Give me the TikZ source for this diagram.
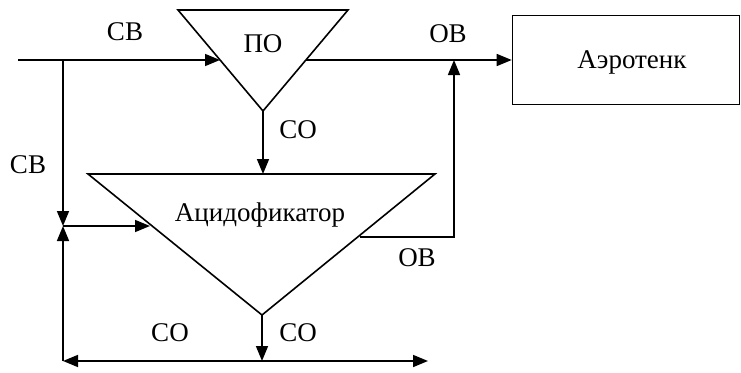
\documentclass[tikz,border=0pt]{standalone}
\usepackage{fontspec}
\setmainfont{Liberation Serif}
\usetikzlibrary{arrows.meta}
\begin{document}
\begin{tikzpicture}[x=1pt,y=-1pt,line width=1.6pt,
  >={Triangle[length=15pt,width=12pt]},
  lbl/.style={font=\fontsize{27}{32}\selectfont,inner sep=0pt}]
\useasboundingbox (0,0) rectangle (741,372);

% primary clarifier (ПО)
\coordinate (poTL) at (178,10);
\coordinate (poTR) at (348,10);
\coordinate (poB)  at (263,111);
\draw (poTL) -- (poTR) -- (poB) -- cycle;
\node[lbl] (po) at (263,44) {ПО};

% acidifier
\coordinate (acTL) at (88,174);
\coordinate (acTR) at (435,174);
\coordinate (acB)  at (262,315);
\draw (acTL) -- (acTR) -- (acB) -- cycle;
\node[lbl] (ac) at (260,215) {Ацидофикатор};

% aeration tank
\node[draw,line width=1.6pt,minimum width=227pt,minimum height=89pt] (aero) at (626,60) {};
\node[lbl] (aerot) at (632,62) {Аэротенк};

% connection points
\coordinate (in)   at (18,60);
\coordinate (j1)   at (63,60);
\coordinate (poL)  at (220,60);
\coordinate (poR)  at (306,60);
\coordinate (ovT)  at (454,60);
\coordinate (acT)  at (263,174);
\coordinate (jm)   at (63,226);
\coordinate (acL)  at (150,226);
\coordinate (acR)  at (360,237);
\coordinate (ovB)  at (454,237);
\coordinate (bl)   at (63,361);
\coordinate (bm)   at (262,361);
\coordinate (br)   at (428,361);

% flows
\draw[->] (in) -- (poL);
\draw[->] (j1) -- (jm);
\draw[->] (jm) -- (acL);
\draw[->] (poB) -- (acT);
\draw[->] (poR) -- (aero.west);
\draw[->] (acR) -- (ovB) -- (ovT);
\draw[->] (acB) -- (bm);
\draw[<->] (bl) -- (br);
\draw[->] (bl) -- (jm);

% flow labels
\node[lbl] (l1) at (125,32) {СВ};
\node[lbl] (l2) at (448,34) {ОВ};
\node[lbl] (l3) at (298,130) {СО};
\node[lbl] (l4) at (28,165) {СВ};
\node[lbl] (l5) at (417,258) {ОВ};
\node[lbl] (l6) at (170,333) {СО};
\node[lbl] (l7) at (298,333) {СО};
\end{tikzpicture}
\end{document}
